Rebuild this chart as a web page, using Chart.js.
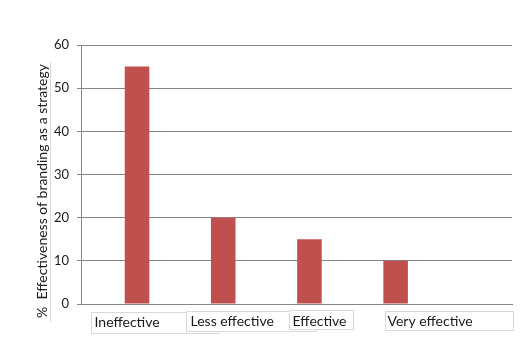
<!DOCTYPE html>
<html>
<head>
<meta charset="utf-8">
<script src="https://cdn.jsdelivr.net/npm/chart.js@4"></script>
<style>
  html,body{margin:0;padding:0;background:#fff;}
  #wrap{width:528px;height:338px;position:relative;}
</style>
</head>
<body>
<div id="wrap"><canvas id="c" width="528" height="338"></canvas></div>
<script>
// ---- data ----
const categories = ["Ineffective", "Less effective", "Effective", "Very effective", ""];
const effectiveness = [55, 20, 15, 10, null];
const spacerSeries = [null, null, null, null, null];
const yTicks = [0, 10, 20, 30, 40, 50, 60];
const yAxisTitle = "%  Effectiveness of branding as a strategy";

// ---- label box layout (offsets from category centre, px) ----
const labelBoxes = [
  {dx: -33, top: 312, w: 127, h: 21, tx: 3, base: 327},
  {dx: -24, top: 311, w: 130, h: 20, tx: 4, base: 326},
  {dx: -7.5, top: 310, w: 64, h: 19, tx: 3, base: 325.5},
  {dx: 2.5, top: 311, w: 128, h: 19, tx: 2, base: 325.5}
];

const FONT = "Lato, 'Open Sans', sans-serif";
const GRID = "#868686";

const overlay = {
  id: "overlay",
  afterDraw(chart) {
    const ctx = chart.ctx;
    const xs = chart.scales.x;
    ctx.save();
    // category label boxes
    ctx.font = "14px " + FONT;
    ctx.textBaseline = "alphabetic";
    ctx.textAlign = "left";
    labelBoxes.forEach((b, i) => {
      const cx = xs.getPixelForValue(i);
      const x = Math.round(cx + b.dx) + 0.5;
      const y = b.top + 0.5;
      ctx.fillStyle = "#fff";
      ctx.fillRect(x, y, b.w, b.h);
      ctx.strokeStyle = "#d9d9d9";
      ctx.lineWidth = 1;
      ctx.strokeRect(x, y, b.w, b.h);
      ctx.fillStyle = "#1a1a1a";
      ctx.fillText(categories[i], x + b.tx, b.base);
    });
    // y axis title
    ctx.strokeStyle = "#d9d9d9";
    ctx.beginPath();
    ctx.moveTo(50.5, 62);
    ctx.lineTo(50.5, 322);
    ctx.stroke();
    ctx.translate(42, 191);
    ctx.rotate(-Math.PI / 2);
    ctx.textAlign = "center";
    ctx.textBaseline = "middle";
    ctx.fillStyle = "#1a1a1a";
    ctx.font = "14px " + FONT;
    ctx.fillText(yAxisTitle, 0, 0);
    ctx.restore();
  }
};

new Chart(document.getElementById("c"), {
  type: "bar",
  data: {
    labels: categories,
    datasets: [
      {data: spacerSeries, backgroundColor: "rgba(0,0,0,0)"},
      {data: effectiveness, backgroundColor: "#C0504D", borderWidth: 0}
    ]
  },
  options: {
    responsive: false,
    animation: false,
    devicePixelRatio: 1,
    categoryPercentage: 0.6,
    barPercentage: 0.95,
    layout: {padding: {top: 45, right: 16, bottom: 0, left: 0}},
    plugins: {legend: {display: false}, tooltip: {enabled: false}},
    scales: {
      x: {
        grid: {display: false, drawTicks: false},
        border: {display: true, color: GRID, width: 1},
        ticks: {display: false},
        afterFit(s) { s.height = 34; }
      },
      y: {
        min: 0, max: 60,
        afterBuildTicks(s) { s.ticks = yTicks.map(v => ({value: v})); },
        grid: {color: GRID, lineWidth: 1, tickLength: 4, drawTicks: true},
        border: {display: true, color: GRID, width: 1},
        ticks: {color: "#1a1a1a", font: {family: FONT, size: 13}, padding: 8},
        afterFit(s) { s.width = 81; }
      }
    }
  },
  plugins: [overlay]
});
</script>
</body>
</html>
